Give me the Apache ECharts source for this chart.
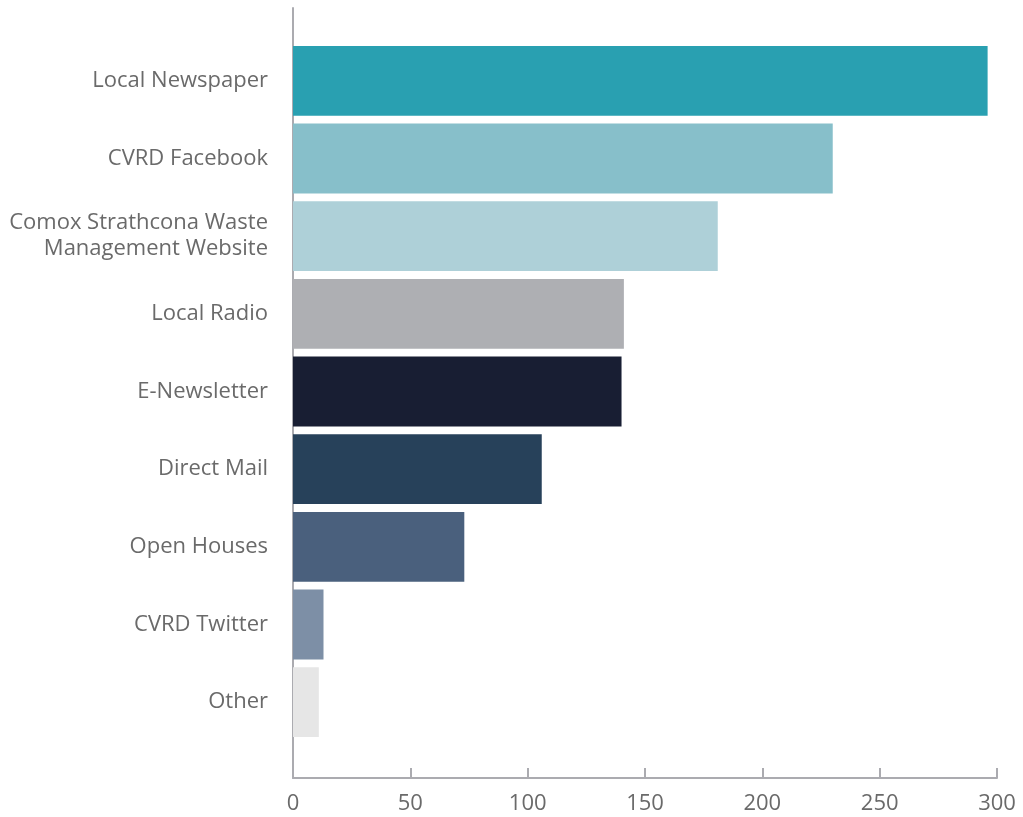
<!DOCTYPE html>
<html><head><meta charset="utf-8">
<script src="https://cdn.jsdelivr.net/npm/echarts@6/dist/echarts.min.js"></script>
<style>html,body{margin:0;padding:0;background:#fff}#c{width:1023px;height:817px}</style>
</head><body><div id="c"></div>
<script>
const categories = ["Local Newspaper","CVRD Facebook","Comox Strathcona Waste\nManagement Website","Local Radio","E-Newsletter","Direct Mail","Open Houses","CVRD Twitter","Other"];
const values = [296, 230, 181, 141, 140, 106, 73, 13, 11];
const colors = ["#29a0b1","#87bfca","#aed0d8","#aeafb3","#181e33","#27415a","#4a607d","#7d8fa6","#e6e6e6"];
const xTicks = [0, 300, 50];

const chart = echarts.init(document.getElementById('c'));
const axisCol = '#ababb0';
const font = '"Open Sans", "Noto Sans", sans-serif';
chart.setOption({
  animation: false,
  grid: [
    {left: 293, right: 26, top: 42, bottom: 76},
    {left: 293, right: 26, top: 8, bottom: 39}
  ],
  xAxis: [
    {type: 'value', gridIndex: 0, min: xTicks[0], max: xTicks[1], interval: xTicks[2], offset: 37,
     axisLine: {show: true, lineStyle: {color: axisCol, width: 2}},
     axisTick: {show: true, inside: true, length: 10, lineStyle: {color: axisCol, width: 2}},
     splitLine: {show: false},
     axisLabel: {color: '#6a6a6a', fontSize: 22, fontFamily: font, margin: 15}},
    {type: 'value', gridIndex: 1, show: false, min: 0, max: 1}
  ],
  yAxis: [
    {type: 'category', gridIndex: 0, data: categories, inverse: true,
     axisLine: {show: false}, axisTick: {show: false},
     axisLabel: {color: '#6a6a6a', fontSize: 22, fontFamily: font, margin: 25, align: 'right', lineHeight: 26, padding: [4, 0, 0, 0]}},
    {type: 'value', gridIndex: 1, min: 0, max: 1,
     axisLine: {show: true, lineStyle: {color: axisCol, width: 2}},
     axisTick: {show: false}, axisLabel: {show: false}, splitLine: {show: false}}
  ],
  series: [{
    type: 'bar', xAxisIndex: 0, yAxisIndex: 0,
    data: values.map((v, i) => ({value: v, itemStyle: {color: colors[i]}})),
    barCategoryGap: '10%'
  }]
});
</script></body></html>
